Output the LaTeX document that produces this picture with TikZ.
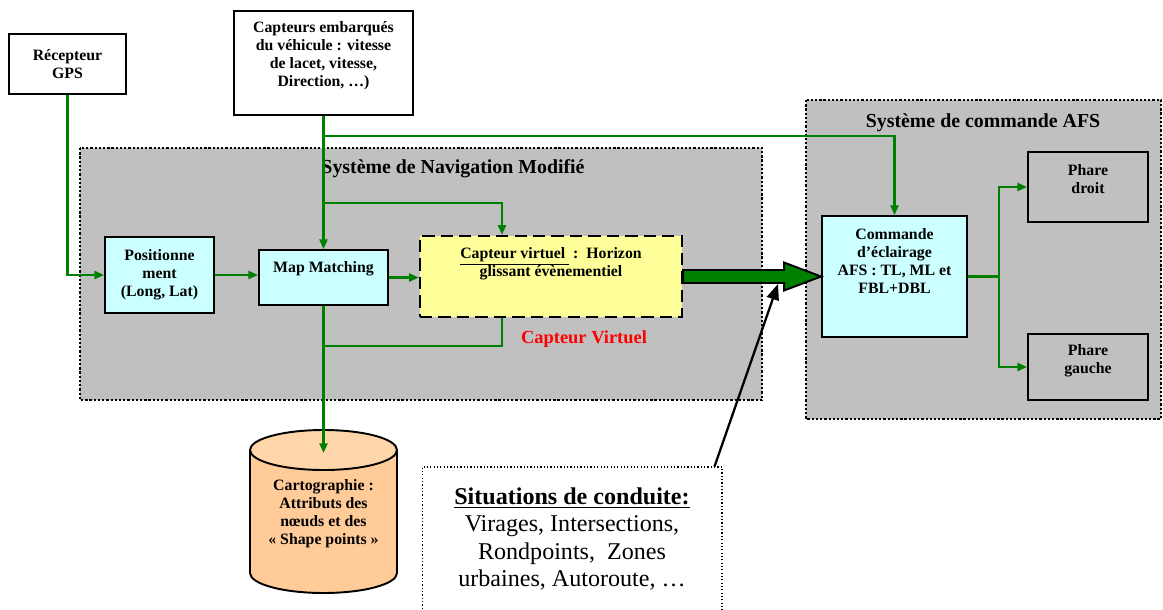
\documentclass[tikz,border=0pt]{standalone}
\usepackage{fontspec}
\setmainfont{Liberation Serif}
\usepackage{tikz}
\usetikzlibrary{shapes,arrows,arrows.meta,positioning,calc}
\definecolor{navGray}{RGB}{192,192,192}
\definecolor{boxCyan}{RGB}{204,255,255}
\definecolor{boxYellow}{RGB}{255,255,153}
\definecolor{linkGreen}{RGB}{0,128,0}
\definecolor{mapOrange}{RGB}{255,204,153}
\definecolor{mapOrangeTop}{RGB}{255,214,170}

\tikzset{
  box/.style={rectangle, draw, line width=1.1pt, align=center, font=\fontsize{9}{10.2}\selectfont\bfseries},
  cyanbox/.style={box, fill=boxCyan},
  zone/.style={draw, fill=navGray, line width=1.6pt, dash pattern=on 1.3pt off 1.1pt},
  link/.style={linkGreen, line width=1.2pt},
  title/.style={font=\fontsize{11.3}{13}\selectfont\bfseries},
}

\begin{document}
\begin{tikzpicture}[x=0.02cm, y=-0.02cm, >={Triangle[length=5.5pt,width=4.6pt]}]
    \useasboundingbox (0,0) rectangle (1163,609);

    % Zones
    \draw[zone] (80,148) rectangle (762,400);
    \draw[zone] (806,100) rectangle (1161,419);
    \node[title] (navtitle) at (453,169) {Système de Navigation Modifié};
    \node[title] (afstitle) at (983,123) {Système de commande AFS};

    % Sources
    \node[box, minimum width=2.34cm, minimum height=1.2cm] (gps) at (67.5,64) {Récepteur\\GPS};
    \node[box, minimum width=3.58cm, minimum height=2.08cm, text depth=10.2pt] (cap) at (323.5,63)
        {Capteurs embarqués\\du véhicule : vitesse\\de lacet, vitesse,\\Direction, …)};

    % Navigation
    \node[cyanbox, minimum width=2.18cm, minimum height=1.52cm] (pos) at (159.5,275) {Positionne\\ment\\(Long, Lat)};
    \node[cyanbox, minimum width=2.58cm, minimum height=1.1cm, text depth=12pt] (mm) at (323.5,277.5) {Map Matching};
    \node[box, fill=boxYellow, line width=1.4pt, dash pattern=on 7pt off 3.5pt,
          minimum width=5.24cm, minimum height=1.62cm, text depth=17pt] (yc) at (551,276.5)
        {\underline{Capteur virtuel\ }~:~~Horizon\\glissant évènementiel};
    \node[font=\fontsize{10.5}{12}\selectfont\bfseries, text=red] (cvlabel) at (584,339) {Capteur Virtuel};

    % Carto (cylinder)
    \draw[fill=mapOrange, line width=1.1pt] (250,450) -- (250,573)
        arc[start angle=180, end angle=0, x radius=73.5, y radius=20] -- (397,450);
    \draw[fill=mapOrangeTop, line width=1.1pt] (323.5,450) ellipse[x radius=73.5, y radius=20];
    \coordinate (cartotop) at (323.5,453);
    \node[font=\fontsize{9}{10.2}\selectfont\bfseries, align=center] (carto) at (323.5,514)
        {Cartographie :\\Attributs des\\nœuds et des\\« Shape points »};

    % AFS
    \node[cyanbox, minimum width=2.9cm, minimum height=2.42cm, text depth=17.5pt] (cmd) at (894.5,276.5)
        {Commande\\d’éclairage\\AFS : TL, ML et\\FBL+DBL};
    \node[box, minimum width=2.4cm, minimum height=1.4cm, text depth=9.6pt] (pd) at (1088,187) {Phare\\droit};
    \node[box, minimum width=2.4cm, minimum height=1.32cm, text depth=9.4pt] (pg) at (1088,367) {Phare\\gauche};

    % Situations
    \node[draw, line width=0.6pt, dash pattern=on 0.7pt off 1.2pt, minimum width=6cm, minimum height=2.88cm,
          align=center, font=\fontsize{13.7}{15.6}\selectfont] (sit) at (572,539)
        {\textbf{\underline{Situations de conduite:}}\\Virages, Intersections,\\Rondpoints,~ Zones\\urbaines, Autoroute, …};

    % Green links
    \coordinate (j1) at (323.5,136);
    \coordinate (j2) at (323.5,203);
    \coordinate (j3) at (323.5,346);
    \coordinate (j4) at (999,276.5);
    \draw[link, ->] (gps) |- (pos);
    \draw[link, ->] (pos.east) -- (pos.east -| mm.west);
    \draw[link, ->] (mm.east) -- (mm.east -| yc.west);
    \draw[link, ->] (cap.south) -- (mm.north);
    \draw[link, ->] (j1) -| (cmd.north);
    \draw[link, ->] (j2) -| ([xshift=-0.98cm]yc.north);
    \draw[link] ([xshift=-0.98cm]yc.south) |- (j3);
    \draw[link, ->] (mm.south) -- (cartotop);
    \draw[link] (cmd.east) -- (j4);
    \draw[link, ->] (j4) |- (pd.west);
    \draw[link, ->] (j4) |- (pg.west);

    % Fat arrow to the AFS command
    \draw[fill=linkGreen, line width=1.1pt] ($(yc.east)+(0,-6.5)$) -- ($(cmd.west)+(-37,-6.5)$)
        -- ($(cmd.west)+(-37,-14)$) -- (cmd.west) -- ($(cmd.west)+(-37,14)$)
        -- ($(cmd.west)+(-37,6.5)$) -- ($(yc.east)+(0,6.5)$) -- cycle;

    % Driving situations
    \coordinate (hz) at (778,284);
    \draw[-{Triangle[length=9pt,width=7pt]}, line width=1.3pt] ([xshift=-0.16cm]sit.north east) -- (hz);
\end{tikzpicture}
\end{document}
